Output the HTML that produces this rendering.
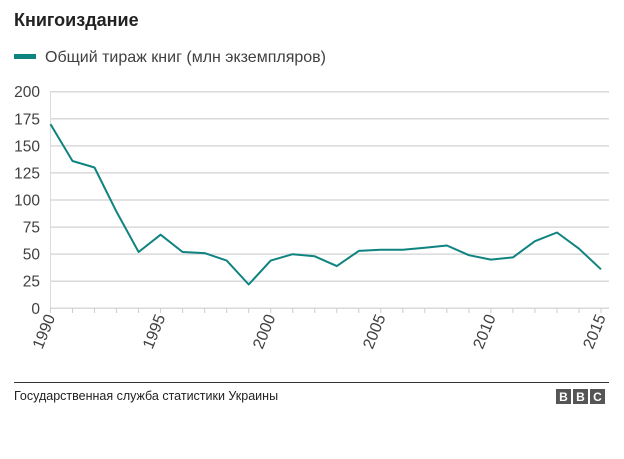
<!DOCTYPE html>
<html><head><meta charset="utf-8"><style>
body{margin:0;background:#fff;width:624px;height:454px;overflow:hidden;font-family:"Liberation Sans",sans-serif;}
</style></head><body>
<svg width="624" height="454" font-family="Liberation Sans, sans-serif">
<text x="14" y="26" font-size="18" font-weight="bold" fill="#222">Книгоиздание</text>
<rect x="14" y="54" width="22" height="5" fill="#0f8380"/>
<text x="45" y="62" font-size="16" fill="#404040">Общий тираж книг (млн экземпляров)</text>
<g id="grid"></g>
<g id="axes"></g>
<path id="line" fill="none" stroke="#0f8380" stroke-width="2" stroke-linejoin="round"/>
<line x1="14" y1="382.5" x2="609" y2="382.5" stroke="#333" stroke-width="1"/>
<text x="14" y="400" font-size="12.5" fill="#222">Государственная служба статистики Украины</text>
<g font-weight="bold" font-size="12" fill="#fff" text-anchor="middle">
<rect x="556" y="389" width="15" height="15" fill="#555"/><text x="563.5" y="401">B</text>
<rect x="573" y="389" width="15" height="15" fill="#555"/><text x="580.5" y="401">B</text>
<rect x="590" y="389" width="15" height="15" fill="#555"/><text x="597.5" y="401">C</text>
</g>
</svg>
<script>
const years=[1990,1991,1992,1993,1994,1995,1996,1997,1998,1999,2000,2001,2002,2003,2004,2005,2006,2007,2008,2009,2010,2011,2012,2013,2014,2015];
const values=[170,136,130,89,52,68,52,51,44,22,44,50,48,39,53,54,54,56,58,49,45,47,62,70,55,36];
const yTicks=[0,25,50,75,100,125,150,175,200];
const xTickLabels=[1990,1995,2000,2005,2010,2015];
const NS="http://www.w3.org/2000/svg";
const x=v=>50.5+(v-1990)*22.02;
const y=v=>308.3-v*1.083;
const grid=document.getElementById('grid'),axes=document.getElementById('axes');
yTicks.forEach(t=>{
 const l=document.createElementNS(NS,'line');
 l.setAttribute('x1',50);l.setAttribute('x2',609);l.setAttribute('y1',y(t));l.setAttribute('y2',y(t));
 l.setAttribute('stroke','#d9d9d9');l.setAttribute('stroke-width','1.5');
 
 
 grid.appendChild(l);
 const tx=document.createElementNS(NS,'text');
 tx.setAttribute('x',40);tx.setAttribute('y',y(t)+5.5);tx.setAttribute('text-anchor','end');
 tx.setAttribute('font-size','15.5');tx.setAttribute('fill','#404040');tx.textContent=t;
 
 
 axes.appendChild(tx);
});
const vl=document.createElementNS(NS,'line');
vl.setAttribute('x1',50.5);vl.setAttribute('x2',50.5);vl.setAttribute('y1',y(200));vl.setAttribute('y2',313);
vl.setAttribute('stroke','#dcdcdc');


axes.appendChild(vl);
years.forEach(yr=>{
 const t=document.createElementNS(NS,'line');
 t.setAttribute('x1',x(yr));t.setAttribute('x2',x(yr));t.setAttribute('y1',308);t.setAttribute('y2',313);
 t.setAttribute('stroke','#ccc');
 
 
 axes.appendChild(t);
});
xTickLabels.forEach(yr=>{
 const tx=document.createElementNS(NS,'text');
 const px=x(yr)+5,py=317;
 tx.setAttribute('x',px);tx.setAttribute('y',py);tx.setAttribute('text-anchor','end');
 tx.setAttribute('transform',`rotate(-68 ${px} ${py})`);
 tx.setAttribute('font-size','16');tx.setAttribute('fill','#404040');tx.textContent=yr;
 
 
 axes.appendChild(tx);
});
document.getElementById('line').setAttribute('d',values.map((v,i)=>(i?'L':'M')+x(years[i]).toFixed(1)+','+y(v).toFixed(1)).join(''));
</script>
</body></html>
